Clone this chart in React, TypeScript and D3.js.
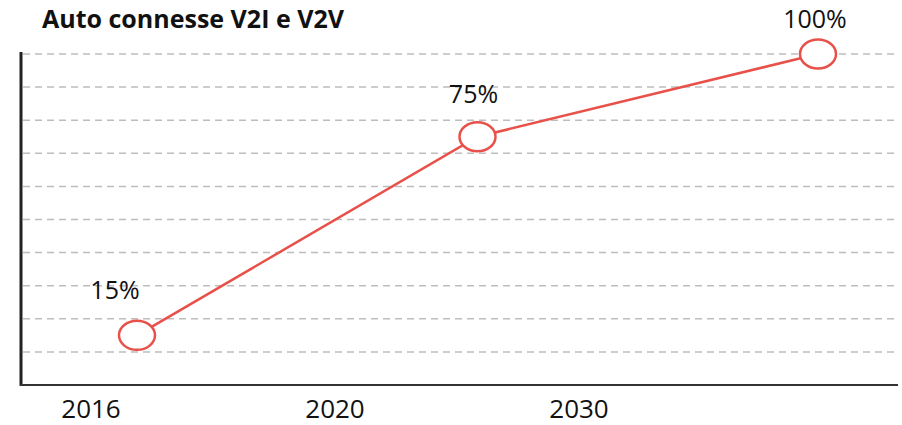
import React, { useEffect, useRef } from 'react'
import * as d3 from 'd3'

const years = ['2016', '2020', '2030']
const shares = [15, 75, 100]
const gridTicks = [10, 20, 30, 40, 50, 60, 70, 80, 90, 100]
const title = 'Auto connesse V2I e V2V'

const W = 902
const H = 425
const RED = '#e8514a'

export default function App() {
  const ref = useRef<SVGSVGElement>(null)

  useEffect(() => {
    const svg = d3.select(ref.current)
    svg.selectAll('*').remove()

    const y = d3.scaleLinear().domain([0, 100]).range([385, 54])
    // points and the year labels sit on different spacings in the original
    const xPoint = d3.scalePoint().domain(years).range([137, 818])
    const xLabel = d3.scalePoint().domain(years).range([91, 579])

    const data = years.map((yr, i) => ({ year: yr, value: shares[i] }))

    svg.append('rect').attr('width', W).attr('height', H).attr('fill', '#fff')

    // dashed grid
    svg.append('g')
      .selectAll('line')
      .data(gridTicks)
      .enter()
      .append('line')
      .attr('x1', 23)
      .attr('x2', 896)
      .attr('y1', d => y(d))
      .attr('y2', d => y(d))
      .attr('stroke', '#bdbdbd')
      .attr('stroke-width', 1.5)
      .attr('stroke-dasharray', '7,5')

    // axes
    svg.append('line')
      .attr('x1', 21).attr('x2', 21)
      .attr('y1', y(100) - 2).attr('y2', y(0) + 1)
      .attr('stroke', '#222').attr('stroke-width', 3)
    svg.append('line')
      .attr('x1', 20).attr('x2', 898)
      .attr('y1', y(0)).attr('y2', y(0))
      .attr('stroke', '#333').attr('stroke-width', 2)

    // title
    svg.append('text')
      .attr('x', 42).attr('y', 28)
      .attr('font-family', 'Open Sans, sans-serif')
      .attr('font-weight', 700)
      .attr('font-size', 25)
      .attr('fill', '#111')
      .text(title)

    // year labels
    svg.append('g')
      .selectAll('text')
      .data(years)
      .enter()
      .append('text')
      .attr('x', d => xLabel(d) as number)
      .attr('y', 418)
      .attr('text-anchor', 'middle')
      .attr('font-family', 'Open Sans, sans-serif')
      .attr('font-size', 26)
      .attr('fill', '#111')
      .text(d => d)

    // line
    const line = d3.line<{ year: string; value: number }>()
      .x(d => xPoint(d.year) as number)
      .y(d => y(d.value))
    svg.append('path')
      .datum(data)
      .attr('d', line)
      .attr('fill', 'none')
      .attr('stroke', RED)
      .attr('stroke-width', 2.5)

    svg.append('g')
      .selectAll('ellipse')
      .data(data)
      .enter()
      .append('ellipse')
      .attr('cx', d => xPoint(d.year) as number)
      .attr('cy', d => y(d.value))
      .attr('rx', 18)
      .attr('ry', 14.5)
      .attr('fill', '#fff')
      .attr('stroke', RED)
      .attr('stroke-width', 2.5)

    // value labels
    const labelDx = [-22, -4, -3]
    const labelDy = [-36, -34, -26]
    svg.append('g')
      .selectAll('text')
      .data(data)
      .enter()
      .append('text')
      .attr('x', (d, i) => (xPoint(d.year) as number) + labelDx[i])
      .attr('y', (d, i) => y(d.value) + labelDy[i])
      .attr('text-anchor', 'middle')
      .attr('font-family', 'Open Sans, sans-serif')
      .attr('font-size', 25)
      .attr('fill', '#111')
      .text(d => d.value + '%')
  }, [])

  return (
    <svg ref={ref} width={W} height={H} style={{ position: 'absolute', left: 0, top: 0 }} />
  )
}
